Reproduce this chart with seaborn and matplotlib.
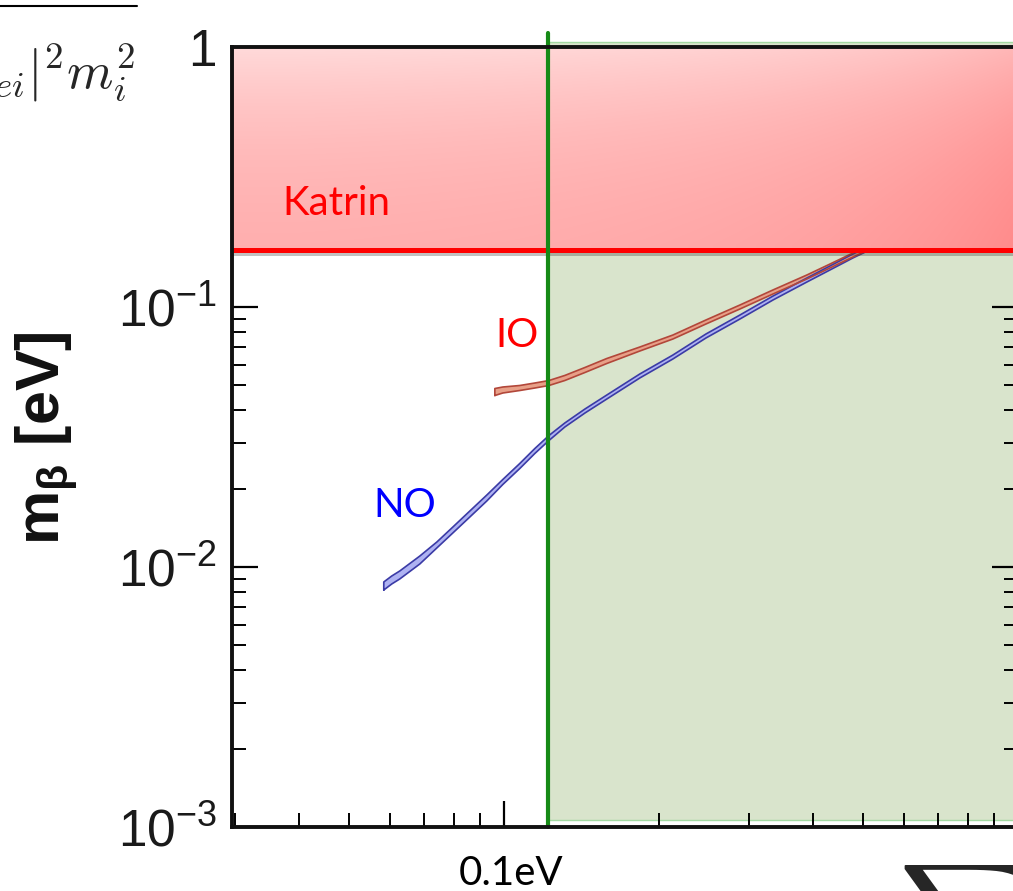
import numpy as np
import matplotlib
matplotlib.use('Agg')
import matplotlib.pyplot as plt
import matplotlib.patheffects as pe
from matplotlib.colors import LinearSegmentedColormap
from matplotlib.patches import Rectangle
from matplotlib.ticker import FixedLocator, FixedFormatter, LogLocator, NullFormatter
import seaborn as sns

# ---- data ----
# normal ordering band: sum of masses [eV] vs lower / upper m_beta [eV]
no_sum = [0.05841, 0.06053, 0.06274, 0.06864, 0.07409, 0.07959, 0.08587, 0.09267, 0.09955,
          0.1074, 0.1149, 0.1224, 0.1314, 0.1438, 0.1586, 0.1839, 0.2132, 0.2472, 0.2879,
          0.3338, 0.3886, 0.4308, 0.4775, 0.5389]
no_low = [0.008156, 0.008603, 0.008992, 0.01027, 0.01184, 0.01352, 0.01557, 0.01795, 0.02077,
          0.02392, 0.02733, 0.03066, 0.03455, 0.03911, 0.04427, 0.05335, 0.06310, 0.07598, 0.08992,
          0.1064, 0.1248, 0.1388, 0.1544, 0.1732]
no_high = [0.008758, 0.009234, 0.009652, 0.01102, 0.01248, 0.01425, 0.01642, 0.01892, 0.02171,
           0.02501, 0.02856, 0.03205, 0.03580, 0.04052, 0.04587, 0.05527, 0.06535, 0.07872, 0.09316,
           0.1102, 0.1293, 0.1438, 0.1599, 0.1795]

# inverted ordering band
io_sum = [0.09605, 0.09955, 0.1074, 0.1149, 0.1224, 0.1314, 0.1438, 0.1586, 0.1839, 0.2132,
          0.2472, 0.2879, 0.3338, 0.3886, 0.4308, 0.4775, 0.5389]
io_low = [0.04566, 0.04669, 0.04773, 0.04880, 0.04990, 0.05215, 0.05599, 0.06064, 0.06773, 0.07531,
          0.08602, 0.09825, 0.1122, 0.1282, 0.1413, 0.1557, 0.1732]
io_high = [0.04858, 0.04924, 0.04990, 0.05101, 0.05215, 0.05454, 0.05853, 0.06338, 0.07017, 0.07802,
           0.08913, 0.1018, 0.1163, 0.1328, 0.1463, 0.1613, 0.1795]

katrin_limit = 0.166     # m_beta bound [eV]
cosmo_bound = 0.122      # sum of masses, green line
x_range = (0.0296, 1.0)
y_range = (1e-3, 1.0)
y_ticks = [1e-3, 1e-2, 1e-1, 1.0]
y_ticklabels = [r'$\mathdefault{10^{-3}}$', r'$\mathdefault{10^{-2}}$', r'$\mathdefault{10^{-1}}$', '1']

# ---- style ----
sns.set_theme(style='ticks')
plt.rcParams['font.family'] = ['Liberation Sans', 'DejaVu Sans']
label_font = ['Lato', 'DejaVu Sans']
tick_font = ['Liberation Sans Narrow', 'Liberation Sans']

W, H = 1013, 891
fig = plt.figure(figsize=(W / 100, H / 100), dpi=100)
ax = fig.add_axes([232 / W, 64 / H, 786 / W, 780 / H])
ax.set_xscale('log')
ax.set_yscale('log')
ax.set_facecolor('white')

# green allowed region
green = Rectangle((cosmo_bound, 0.009), 2.0, 0.9974, transform=ax.get_xaxis_transform(),
                  facecolor='#d9e4cc', edgecolor='#a3d9a3', lw=1.0, zorder=0.5, clip_on=False)
ax.add_patch(green)

# bands: filled interior + outline drawn with seaborn
bands = [(no_sum, no_low, no_high, '#aeb2f2', '#3b3ba6'),
         (io_sum, io_low, io_high, '#e8a088', '#b2473a')]
for s, lo, hi, fc, ec in bands:
    xs = list(s) + list(s[::-1]) + [s[0]]
    ys = list(lo) + list(hi[::-1]) + [lo[0]]
    ax.fill(xs, ys, color=fc, lw=0, zorder=2)
    sns.lineplot(x=xs, y=ys, sort=False, estimator=None, color=ec, lw=1.2, ax=ax, zorder=2.2)

# Katrin box with gradient
pink = LinearSegmentedColormap.from_list('pink', ['#ffdada', '#ff8484'])
grad = np.add.outer(np.linspace(0, 1, 60), np.linspace(0, 1, 60)) / 2
ax.imshow(grad, cmap=pink, extent=(x_range[0], 1.2, katrin_limit, y_range[1]),
          aspect='auto', interpolation='bilinear', zorder=3, vmin=0, vmax=1)
ax.axhline(katrin_limit, color='#ff0000', lw=3.6, zorder=3.5,
           path_effects=[pe.SimpleLineShadow(offset=(0, -2.5), shadow_color='#333333', alpha=0.3),
                         pe.Normal()])

# cosmology line
ax.axvline(cosmo_bound, ymin=0, ymax=1.018, color='#168a16', lw=3, zorder=4, clip_on=False)

ax.set_xlim(*x_range)
ax.set_ylim(*y_range)

# ticks
ax.yaxis.set_major_locator(FixedLocator(y_ticks))
ax.yaxis.set_major_formatter(FixedFormatter(y_ticklabels))
ax.yaxis.set_minor_locator(LogLocator(base=10, subs=np.arange(2, 10)))
ax.yaxis.set_minor_formatter(NullFormatter())
ax.xaxis.set_major_formatter(NullFormatter())
ax.xaxis.set_minor_formatter(NullFormatter())
ax.tick_params(which='both', direction='in', left=True, right=True, bottom=True, top=False,
               color='black')
ax.tick_params(which='major', length=19, width=1.6, pad=11, labelsize=37)
ax.tick_params(which='minor', length=10, width=1.4)
for lab in ax.get_yticklabels():
    lab.set_family(tick_font)
    lab.set_color('#1a1a1a')

for side in ['left', 'bottom', 'top', 'right']:
    ax.spines[side].set_linewidth(2.8)
    ax.spines[side].set_color('#111111')
    ax.spines[side].set_zorder(5)

# axis label
fig.text(47 / W, 1 - 438 / H, r'm$_{\mathregular{β}}$ [eV]', rotation=90, fontsize=44,
         fontweight='bold', ha='center', va='center', family=['Liberation Sans'], color='#111111')

# annotations
fig.text(282 / W, 1 - 215 / H, 'Katrin', color='#ff0000', fontsize=29, family=label_font, va='baseline')
fig.text(495 / W, 1 - 347 / H, 'IO', color='#ff0000', fontsize=29, family=label_font, va='baseline')
fig.text(373 / W, 1 - 517 / H, 'NO', color='#0000ff', fontsize=29, family=label_font, va='baseline')
fig.text(459 / W, 1 - 885 / H, '0.1eV', color='black', fontsize=29, family=label_font, va='baseline')

# pieces of the slide around the plot
fig.text(135 / W, 1 - 88 / H, r'$|U_{ei}|^2m_i^2$', math_fontfamily='cm', fontsize=38,
         ha='right', va='baseline')
fig.add_artist(plt.Line2D([0, 137 / W], [1 - 6 / H] * 2, color='black', lw=1.5))
fig.text(898 / W, 1 - 863 / H, r'$\sum$', math_fontfamily='cm', fontsize=72, ha='left', va='top')

fig.savefig('out.png', dpi=100)
